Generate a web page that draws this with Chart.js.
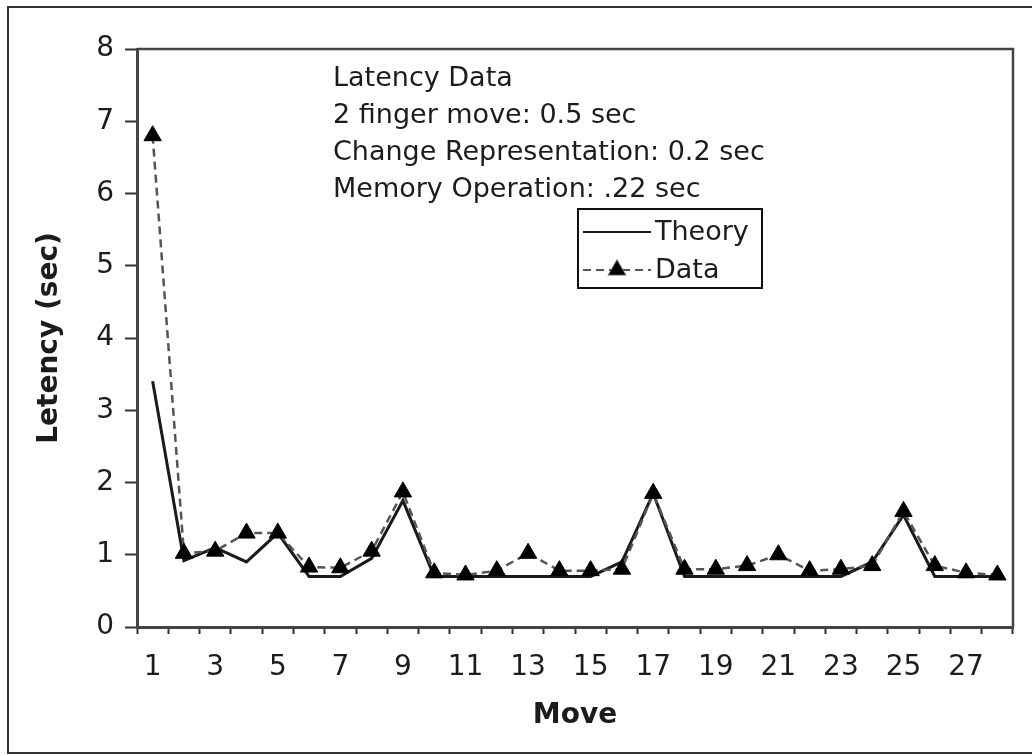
<!DOCTYPE html>
<html>
<head>
<meta charset="utf-8">
<title>Latency per move</title>
<script src="https://cdn.jsdelivr.net/npm/chart.js@4.4.1/dist/chart.umd.min.js"></script>
<style>
    html, body { margin: 0; padding: 0; background: #fff; }
    #wrap { width: 1032px; height: 756px; position: relative; }
</style>
</head>
<body>
<div id="wrap"><canvas id="latencyChart" width="1032" height="756"></canvas></div>
<script>
const moves = ['1', '2', '3', '4', '5', '6', '7', '8', '9', '10', '11', '12', '13', '14',
    '15', '16', '17', '18', '19', '20', '21', '22', '23', '24', '25', '26', '27', '28'];
const theoryValues = [3.4, 0.92, 1.1, 0.9, 1.3, 0.7, 0.7, 0.95, 1.75, 0.7, 0.7, 0.7, 0.7, 0.7,
    0.7, 0.9, 1.85, 0.7, 0.7, 0.7, 0.7, 0.7, 0.7, 0.9, 1.55, 0.7, 0.7, 0.7];
const dataValues = [6.8, 1.02, 1.05, 1.3, 1.3, 0.83, 0.82, 1.05, 1.87, 0.75, 0.72, 0.78, 1.02, 0.78,
    0.78, 0.8, 1.85, 0.8, 0.8, 0.85, 1.0, 0.78, 0.8, 0.85, 1.6, 0.85, 0.75, 0.72];
const yTicks = [0, 1, 2, 3, 4, 5, 6, 7, 8];
const noteLines = ['Latency Data', '2 finger move: 0.5 sec', 'Change Representation: 0.2 sec', 'Memory Operation: .22 sec'];

const FONT = '"DejaVu Sans", Verdana, sans-serif';
const INK = '#1c1c1c';

document.addEventListener('DOMContentLoaded', function() {
    // frame, plot box, note text and the little legend box
    const decorations = {
        id: 'decorations',
        afterDraw(chart) {
            const ctx = chart.ctx;
            const area = chart.chartArea;
            ctx.save();

            ctx.strokeStyle = '#333';
            ctx.lineWidth = 2;
            ctx.strokeRect(8, 7, 1040, 746);

            ctx.strokeStyle = '#444';
            ctx.lineWidth = 2.5;
            ctx.beginPath();
            ctx.moveTo(area.left, area.top);
            ctx.lineTo(area.right, area.top);
            ctx.lineTo(area.right, area.bottom);
            ctx.stroke();

            ctx.fillStyle = INK;
            ctx.font = '27px ' + FONT;
            ctx.textAlign = 'left';
            ctx.textBaseline = 'alphabetic';
            noteLines.forEach((line, i) => {
                ctx.fillText(line, 333, 86 + i * 37);
            });

            // legend
            ctx.strokeStyle = '#111';
            ctx.lineWidth = 2;
            ctx.strokeRect(578, 209, 184, 79);

            const theory = chart.data.datasets[1];
            const data = chart.data.datasets[0];
            ctx.textBaseline = 'middle';

            ctx.strokeStyle = theory.borderColor;
            ctx.lineWidth = 2;
            ctx.beginPath();
            ctx.moveTo(583, 232);
            ctx.lineTo(651, 232);
            ctx.stroke();
            ctx.fillStyle = INK;
            ctx.fillText(theory.label, 655, 233);

            ctx.strokeStyle = data.borderColor;
            ctx.setLineDash(data.borderDash);
            ctx.beginPath();
            ctx.moveTo(583, 270);
            ctx.lineTo(651, 270);
            ctx.stroke();
            ctx.setLineDash([]);
            Chart.helpers.drawPoint(ctx, { pointStyle: 'triangle', radius: 9, borderWidth: 1 }, 617, 270);
            ctx.fillStyle = '#000';
            ctx.fill();
            ctx.fillStyle = INK;
            ctx.fillText(data.label, 655, 271);

            ctx.restore();
        }
    };

    const ctx = document.getElementById('latencyChart').getContext('2d');
    new Chart(ctx, {
        type: 'line',
        data: {
            labels: moves,
            datasets: [{
                label: 'Data',
                data: dataValues,
                borderColor: '#555',
                borderWidth: 2.5,
                borderDash: [8, 5],
                pointStyle: 'triangle',
                pointRadius: 10,
                pointBackgroundColor: '#000',
                pointBorderColor: '#000',
                pointBorderWidth: 1,
                tension: 0
            }, {
                label: 'Theory',
                data: theoryValues,
                borderColor: '#1a1a1a',
                borderWidth: 3,
                pointRadius: 0,
                tension: 0
            }]
        },
        options: {
            responsive: false,
            animation: false,
            layout: { padding: { left: 0, top: 49, right: 19, bottom: 0 } },
            plugins: {
                legend: { display: false },
                tooltip: { enabled: false }
            },
            scales: {
                x: {
                    offset: true,
                    grid: { offset: true, drawOnChartArea: false, drawTicks: true, tickLength: 7, tickWidth: 2, tickColor: '#333' },
                    border: { display: true, color: '#444', width: 3 },
                    ticks: {
                        autoSkip: false,
                        maxRotation: 0,
                        padding: 17,
                        color: INK,
                        font: { family: FONT, size: 28 },
                        callback: function(value, index) {
                            return index % 2 === 0 ? moves[index] : '';
                        }
                    },
                    title: {
                        display: true,
                        text: 'Move',
                        color: INK,
                        font: { family: FONT, size: 28, weight: 'bold' },
                        padding: { top: 0, bottom: 23 }
                    },
                    afterFit: function(scale) { scale.height = 129; }
                },
                y: {
                    min: yTicks[0],
                    max: yTicks[yTicks.length - 1],
                    afterBuildTicks: function(scale) {
                        scale.ticks = yTicks.map(v => ({ value: v }));
                    },
                    grid: { drawOnChartArea: false, drawTicks: true, tickLength: 12, tickWidth: 2, tickColor: '#333' },
                    border: { display: true, color: '#444', width: 3 },
                    ticks: {
                        padding: 11,
                        color: INK,
                        font: { family: FONT, size: 28 }
                    },
                    title: {
                        display: true,
                        text: 'Letency (sec)',
                        color: INK,
                        font: { family: FONT, size: 28, weight: 'bold' },
                        padding: { top: 33, bottom: 0 }
                    },
                    afterFit: function(scale) { scale.width = 137; }
                }
            }
        },
        plugins: [decorations]
    });
});
</script>
</body>
</html>
